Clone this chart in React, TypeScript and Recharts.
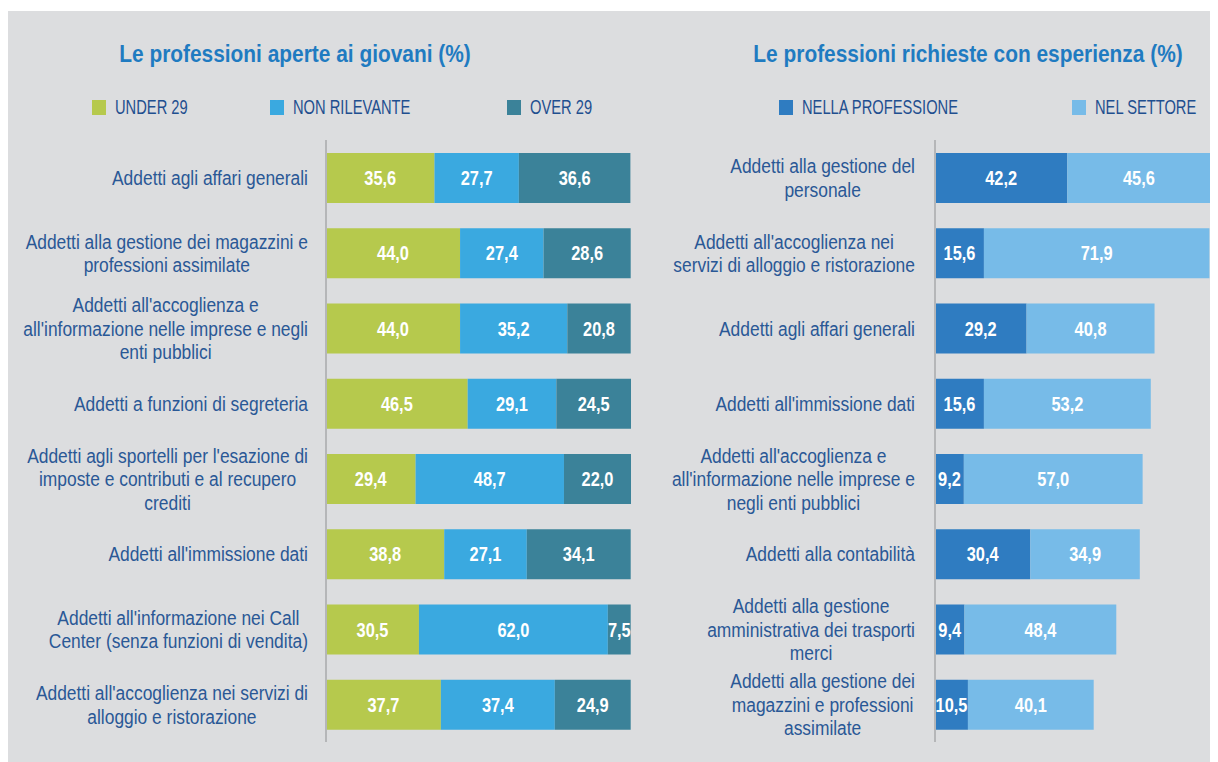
import { Bar, BarChart, LabelList, XAxis, YAxis } from "recharts";

const youthJobs = [
  "Addetti agli affari generali",
  "Addetti alla gestione dei magazzini e\nprofessioni assimilate",
  "Addetti all'accoglienza e\nall'informazione nelle imprese e negli\nenti pubblici",
  "Addetti a funzioni di segreteria",
  "Addetti agli sportelli per l'esazione di\nimposte e contributi e al recupero\ncrediti",
  "Addetti all'immissione dati",
  "Addetti all'informazione nei Call\nCenter (senza funzioni di vendita)",
  "Addetti all'accoglienza nei servizi di\nalloggio e ristorazione",
];
const under29 = [35.6, 44.0, 44.0, 46.5, 29.4, 38.8, 30.5, 37.7];
const nonRilevante = [27.7, 27.4, 35.2, 29.1, 48.7, 27.1, 62.0, 37.4];
const over29 = [36.6, 28.6, 20.8, 24.5, 22.0, 34.1, 7.5, 24.9];

const expJobs = [
  "Addetti alla gestione del\npersonale",
  "Addetti all'accoglienza nei\nservizi di alloggio e ristorazione",
  "Addetti agli affari generali",
  "Addetti all'immissione dati",
  "Addetti all'accoglienza e\nall'informazione nelle imprese e\nnegli enti pubblici",
  "Addetti alla contabilità",
  "Addetti alla gestione\namministrativa dei trasporti\nmerci",
  "Addetti alla gestione dei\nmagazzini e professioni\nassimilate",
];
const nellaProfessione = [42.2, 15.6, 29.2, 15.6, 9.2, 30.4, 9.4, 10.5];
const nelSettore = [45.6, 71.9, 40.8, 53.2, 57.0, 34.9, 48.4, 40.1];

const leftData = youthJobs.map((name, i) => ({
  name,
  under: under29[i],
  nonril: nonRilevante[i],
  over: over29[i],
}));
const rightData = expJobs.map((name, i) => ({
  name,
  prof: nellaProfessione[i],
  sett: nelSettore[i],
}));

// no condensed face installed, so squeeze Liberation Sans horizontally
const FONT = '"Liberation Sans", Arial, sans-serif';
const TICK_SIZE = 20;
const TICK_SQUEEZE = 0.87;
const LINE_H = 23.5;

let ctx: CanvasRenderingContext2D | null = null;
function measure(text: string) {
  if (!ctx) ctx = document.createElement("canvas").getContext("2d");
  if (!ctx) return text.length * 9;
  ctx.font = `${TICK_SIZE}px ${FONT}`;
  return ctx.measureText(text).width;
}

function CategoryTick(props: any) {
  const { x, y, payload, gap } = props;
  const lines = String(payload.value).split("\n");
  const w = Math.max(...lines.map(measure)) * TICK_SQUEEZE;
  const cx = x - gap - w / 2;
  const y0 = -((lines.length - 1) * LINE_H) / 2;
  return (
    <g transform={`translate(${cx},${y}) scale(${TICK_SQUEEZE},1)`}>
      <text
        textAnchor="middle"
        fill="#2a5896"
        fontSize={TICK_SIZE}
        fontFamily={FONT}
        dominantBaseline="central"
      >
        {lines.map((l, i) => (
          <tspan key={i} x={0} y={y0 + i * LINE_H}>
            {l}
          </tspan>
        ))}
      </text>
    </g>
  );
}

const fmt = (v: any) => Number(v).toFixed(1).replace(".", ",");

function ValueLabel(props: any) {
  const { x, y, width, height, value } = props;
  const cx = Number(x) + Number(width) / 2;
  const cy = Number(y) + Number(height) / 2;
  return (
    <g transform={`translate(${cx},${cy}) scale(0.82,1)`}>
      <text
        textAnchor="middle"
        dominantBaseline="central"
        fill="#ffffff"
        fontSize={20}
        fontWeight={700}
        fontFamily={FONT}
      >
        {fmt(value)}
      </text>
    </g>
  );
}

function LegendItem({ color, text, left }: { color: string; text: string; left: number }) {
  return (
    <div
      style={{
        position: "absolute",
        left,
        top: 85,
        height: 22,
        display: "flex",
        alignItems: "center",
        whiteSpace: "nowrap",
      }}
    >
      <div style={{ width: 14, height: 15, background: color, marginRight: 9, flexShrink: 0 }} />
      <span
        style={{
          fontFamily: FONT,
          fontSize: 21,
          color: "#1f4f8f",
          display: "inline-block",
          transform: "scaleX(0.7)",
          transformOrigin: "left center",
        }}
      >
        {text}
      </span>
    </div>
  );
}

const titleStyle: React.CSSProperties = {
  position: "absolute",
  top: 29,
  fontFamily: FONT,
  fontWeight: 700,
  fontSize: 24,
  color: "#1f7bc1",
  textAlign: "center",
  width: 600,
  transform: "scaleX(0.87)",
  transformOrigin: "center",
  whiteSpace: "nowrap",
};

export default function App() {
  return (
    <div
      style={{
        position: "relative",
        width: 1210,
        height: 751,
        marginTop: 3,
        background: "#dcdddf",
        overflow: "hidden",
      }}
    >
      <div style={{ ...titleStyle, left: 287 - 300 }}>Le professioni aperte ai giovani (%)</div>
      <div style={{ ...titleStyle, left: 960 - 300 }}>Le professioni richieste con esperienza (%)</div>

      <LegendItem color="#b6c94d" text="UNDER 29" left={84} />
      <LegendItem color="#3aa9e0" text="NON RILEVANTE" left={262} />
      <LegendItem color="#3b8299" text="OVER 29" left={499} />
      <LegendItem color="#2f7cc1" text="NELLA PROFESSIONE" left={771} />
      <LegendItem color="#77bbe8" text="NEL SETTORE" left={1064} />

      <div style={{ position: "absolute", left: 0, top: 0 }}>
        <BarChart
          width={623}
          height={751}
          data={leftData}
          layout="vertical"
          barSize={50}
          margin={{ top: 129, right: 0, bottom: 20, left: 0 }}
        >
          <XAxis type="number" domain={[0, 100]} hide />
          <YAxis
            type="category"
            dataKey="name"
            width={318}
            tickLine={false}
            tickSize={0}
            tickMargin={0}
            axisLine={{ stroke: "#b5b6b8", strokeWidth: 2 }}
            tick={<CategoryTick gap={18} />}
            interval={0}
          />
          <Bar dataKey="under" stackId="a" fill="#b6c94d" isAnimationActive={false}>
            <LabelList dataKey="under" content={<ValueLabel />} />
          </Bar>
          <Bar dataKey="nonril" stackId="a" fill="#3aa9e0" isAnimationActive={false}>
            <LabelList dataKey="nonril" content={<ValueLabel />} />
          </Bar>
          <Bar dataKey="over" stackId="a" fill="#3b8299" isAnimationActive={false}>
            <LabelList dataKey="over" content={<ValueLabel />} />
          </Bar>
        </BarChart>
      </div>

      <div style={{ position: "absolute", left: 620, top: 0 }}>
        <BarChart
          width={583}
          height={751}
          data={rightData}
          layout="vertical"
          barSize={50}
          margin={{ top: 129, right: 0, bottom: 20, left: 0 }}
        >
          <XAxis type="number" domain={[0, 88]} hide />
          <YAxis
            type="category"
            dataKey="name"
            width={307}
            tickLine={false}
            tickSize={0}
            tickMargin={0}
            axisLine={{ stroke: "#b5b6b8", strokeWidth: 2 }}
            tick={<CategoryTick gap={20} />}
            interval={0}
          />
          <Bar dataKey="prof" stackId="b" fill="#2f7cc1" isAnimationActive={false}>
            <LabelList dataKey="prof" content={<ValueLabel />} />
          </Bar>
          <Bar dataKey="sett" stackId="b" fill="#77bbe8" isAnimationActive={false}>
            <LabelList dataKey="sett" content={<ValueLabel />} />
          </Bar>
        </BarChart>
      </div>
    </div>
  );
}
